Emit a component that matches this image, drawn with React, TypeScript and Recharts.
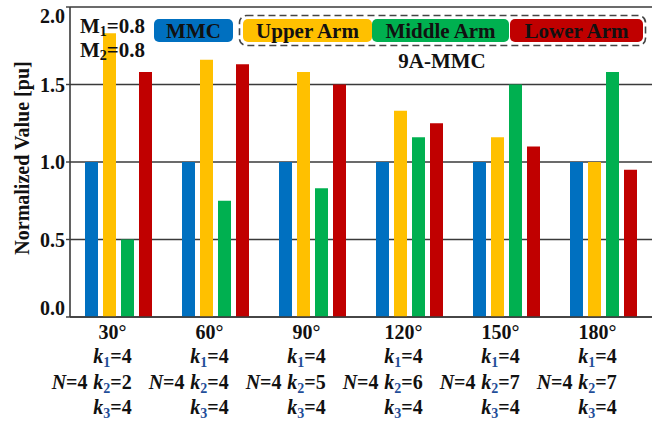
import React from 'react';
import { BarChart, Bar, XAxis, YAxis, CartesianGrid, Legend } from 'recharts';

// Phase-shift cases along the x axis and the module counts for each case
const angles = ['30°', '60°', '90°', '120°', '150°', '180°'];
const nValues = [4, 4, 4, 4, 4, 4];
const k1Values = [4, 4, 4, 4, 4, 4];
const k2Values = [2, 4, 5, 6, 7, 7];
const k3Values = [4, 4, 4, 4, 4, 4];

// Normalized values [pu] per series
const mmcValues = [1.0, 1.0, 1.0, 1.0, 1.0, 1.0];
const upperArmValues = [1.83, 1.66, 1.58, 1.33, 1.16, 1.0];
const middleArmValues = [0.5, 0.75, 0.83, 1.16, 1.5, 1.58];
const lowerArmValues = [1.58, 1.63, 1.5, 1.25, 1.1, 0.95];

const yTicks = [0, 0.5, 1.0, 1.5, 2.0];

const data = angles.map((angle, i) => ({
  angle,
  mmc: mmcValues[i],
  upper: upperArmValues[i],
  middle: middleArmValues[i],
  lower: lowerArmValues[i],
}));

const SERIF = '"Liberation Serif", Tinos, "Times New Roman", Times, "DejaVu Serif", serif';
const INK = '#111';
const SUB_INK = '#1f4e99';
const BLUE = '#0070C0';
const YELLOW = '#FFC000';
const GREEN = '#00B050';
const RED = '#C00000';
const GRID = '#3a3a3a';

const Sub = ({ children }: { children: React.ReactNode }) => (
  <tspan fontSize={14} dy={4} fill={SUB_INK}>{children}</tspan>
);

const XTick = (props: any) => {
  const { x, y, payload } = props;
  const i = payload.index;
  const cx = x - 6;
  return (
    <g style={{ fontFamily: SERIF }} fontWeight="bold" fontSize={20} fill={INK}>
      <text x={cx} y={y + 22} textAnchor="middle">{angles[i]}</text>
      <text x={cx} y={y + 46} textAnchor="middle">
        <tspan fontStyle="italic">k</tspan>
        <Sub>1</Sub>
        <tspan dy={-4}>={k1Values[i]}</tspan>
      </text>
      <text x={cx - 25} y={y + 72} textAnchor="end">
        <tspan fontStyle="italic">N</tspan>={nValues[i]}
      </text>
      <text x={cx} y={y + 72} textAnchor="middle">
        <tspan fontStyle="italic">k</tspan>
        <Sub>2</Sub>
        <tspan dy={-4}>={k2Values[i]}</tspan>
      </text>
      <text x={cx} y={y + 97} textAnchor="middle">
        <tspan fontStyle="italic">k</tspan>
        <Sub>3</Sub>
        <tspan dy={-4}>={k3Values[i]}</tspan>
      </text>
    </g>
  );
};

const YTick = (props: any) => {
  const { x, y, payload } = props;
  const v = payload.value as number;
  // end labels sit inside the frame
  const shift = v === 2 ? 7 : v === 0 ? -9.5 : 0;
  return (
    <text
      x={x}
      y={y + shift}
      dy="0.35em"
      textAnchor="end"
      style={{ fontFamily: SERIF }}
      fontWeight="bold"
      fontSize={20}
      fill={INK}
    >
      {v.toFixed(1)}
    </text>
  );
};

const YTitle = (props: any) => {
  const { viewBox } = props;
  const cx = viewBox.x + 22;
  const cy = viewBox.y + viewBox.height / 2 - 4;
  return (
    <text
      x={cx}
      y={cy}
      transform={`rotate(-90, ${cx}, ${cy})`}
      textAnchor="middle"
      dominantBaseline="central"
      style={{ fontFamily: SERIF }}
      fontWeight="bold"
      fontSize={20}
      fill={INK}
    >
      Normalized Value [pu]
    </text>
  );
};

// legend swatch boxes: MMC on its own, the three arms grouped in a dashed frame
const legendBoxes: Record<string, { left: number; width: number }> = {
  MMC: { left: 154, width: 79 },
  'Upper Arm': { left: 243, width: 129 },
  'Middle Arm': { left: 372, width: 137 },
  'Lower Arm': { left: 510, width: 133 },
};

const renderLegend = (props: any) => {
  const payload: any[] = props.payload || [];
  const textProps = {
    style: { fontFamily: SERIF },
    fontWeight: 'bold',
    fontSize: 21,
    fill: INK,
    dominantBaseline: 'central' as const,
  };
  return (
    <svg width={662} height={80} style={{ display: 'block' }}>
      <text x={80} y={26} {...textProps}>
        M<tspan fontSize={14} dy={5}>1</tspan>
        <tspan dy={-5}>=0.8</tspan>
      </text>
      <text x={80} y={50} {...textProps}>
        M<tspan fontSize={14} dy={5}>2</tspan>
        <tspan dy={-5}>=0.8</tspan>
      </text>
      <rect
        x={239.5}
        y={15.5}
        width={406}
        height={30}
        rx={7}
        fill="none"
        stroke="#444"
        strokeWidth={1.6}
        strokeDasharray="7 4"
      />
      {payload.map((p) => {
        const b = legendBoxes[p.value];
        if (!b) return null;
        return (
          <g key={p.value}>
            <rect x={b.left} y={19} width={b.width} height={23} rx={5} fill={p.color} />
            <text x={b.left + b.width / 2} y={31} textAnchor="middle" {...textProps}>
              {p.value}
            </text>
          </g>
        );
      })}
      <text x={442} y={61} textAnchor="middle" {...textProps}>
        9A-MMC
      </text>
    </svg>
  );
};

export default function App() {
  return (
    <div style={{ position: 'absolute', left: 0, top: 0, width: 662, height: 424, background: '#fff', fontFamily: SERIF }}>
      <BarChart
        width={662}
        height={424}
        data={data}
        margin={{ top: 7, right: 10, bottom: 0, left: 0 }}
        barSize={13}
        barGap={5}
      >
        <CartesianGrid vertical={false} stroke={GRID} strokeWidth={1.4} />
        <XAxis
          dataKey="angle"
          interval={0}
          height={107}
          tickSize={0}
          tickMargin={0}
          tickLine={false}
          axisLine={{ stroke: GRID, strokeWidth: 1.6 }}
          tick={<XTick />}
        />
        <XAxis
          xAxisId="top"
          dataKey="angle"
          orientation="top"
          height={0}
          tick={false}
          tickLine={false}
          axisLine={{ stroke: GRID, strokeWidth: 1.6 }}
        />
        <YAxis
          domain={[0, 2]}
          ticks={yTicks}
          width={70}
          tickSize={4}
          tickMargin={1}
          tickLine={{ stroke: GRID, strokeWidth: 1.4 }}
          axisLine={{ stroke: GRID, strokeWidth: 1.6 }}
          tick={<YTick />}
          label={{ content: <YTitle /> }}
        />
        <YAxis
          yAxisId="right"
          orientation="right"
          domain={[0, 2]}
          width={0}
          tick={false}
          tickLine={false}
          axisLine={{ stroke: GRID, strokeWidth: 1.6 }}
        />
        <Legend
          layout="horizontal"
          verticalAlign="middle"
          align="center"
          content={renderLegend}
          wrapperStyle={{ position: 'absolute', left: 0, top: 0, width: 662, height: 80, pointerEvents: 'none' }}
        />
        <Bar dataKey="mmc" name="MMC" fill={BLUE} isAnimationActive={false} />
        <Bar dataKey="upper" name="Upper Arm" fill={YELLOW} isAnimationActive={false} />
        <Bar dataKey="middle" name="Middle Arm" fill={GREEN} isAnimationActive={false} />
        <Bar dataKey="lower" name="Lower Arm" fill={RED} isAnimationActive={false} />
      </BarChart>
    </div>
  );
}
